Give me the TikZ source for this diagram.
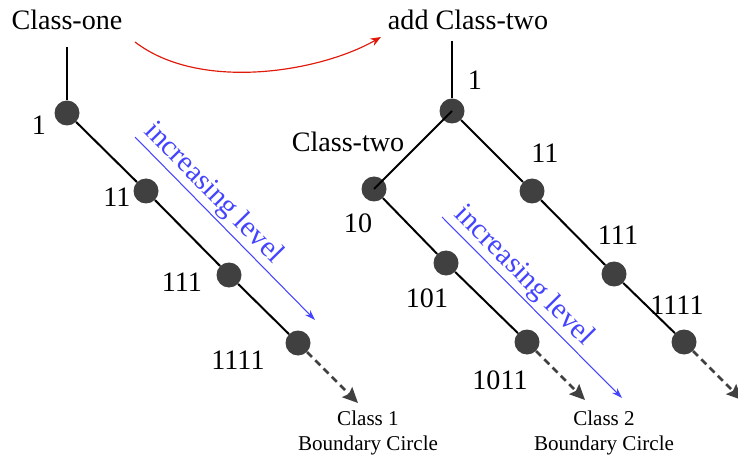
\documentclass[tikz,border=0pt]{standalone}
\usepackage{fontspec}
\setmainfont{Liberation Serif}
\usetikzlibrary{arrows.meta}

\definecolor{dotgray}{HTML}{404040}
\definecolor{lvlblue}{HTML}{4444FF}
\definecolor{movered}{HTML}{E01A0A}

\begin{document}
\begin{tikzpicture}[
  x=0.03cm, y=-0.03cm,
  font=\fontsize{24}{26}\selectfont,
  dot/.style={circle, fill=dotgray, minimum size=0.75cm, inner sep=0pt},
  edge/.style={line width=1.7pt, black},
  ext/.style={line width=2.2pt, dotgray, dash pattern=on 6pt off 4pt,
              -{Stealth[length=13pt,width=12pt,inset=2pt]}},
  lvl/.style={line width=0.9pt, lvlblue, -{Stealth[length=9pt,width=6pt]}},
  lvltext/.style={sloped, above=1pt, inner sep=1pt, text=lvlblue,
                  font=\fontsize{25}{27}\selectfont},
  small/.style={font=\fontsize{18}{21}\selectfont, align=center},
]
\useasboundingbox (0,0) rectangle (738,458);
\clip (0,0) rectangle (738,458);

% ---- class one ----
\node (cone) at (67,20) {Class-one};
\coordinate (cone-top) at (67,47);
\node[dot] (a1)    at (67,113)  {};
\node[dot] (a11)   at (146,191) {};
\node[dot] (a111)  at (229,275) {};
\node[dot] (a1111) at (298,343) {};
\coordinate (a-end) at (358,403);

\node (la1)    at (39,125)  {1};
\node (la11)   at (117,197) {11};
\node (la111)  at (182,282) {111};
\node (la1111) at (238,360) {1111};
\node[small] (bc1) at (368,433) {Class 1\\Boundary Circle};

\draw[edge] (cone-top) -- (a1);
\draw[edge] (a1) -- (a11);
\draw[edge] (a11) -- (a111);
\draw[edge] (a111) -- (a1111);
\draw[ext] (a1111) -- (a-end);

% ---- class two added ----
\node (ctwo) at (468,20) {add Class-two};
\coordinate (ctwo-top) at (452,41);
\node[dot] (b1)    at (452,111) {};
\node[dot] (b10)   at (374,189) {};
\node[dot] (b101)  at (446,263) {};
\node[dot] (b1011) at (527,342) {};
\node[dot] (b11)   at (532,191) {};
\node[dot] (b111)  at (614,274) {};
\node[dot] (b1111) at (684,342) {};
\coordinate (b-end)  at (585,400);
\coordinate (bb-end) at (742,400);

\node (lb1)    at (475,80)  {1};
\node (lbtwo)  at (348,142) {Class-two};
\node (lb10)   at (358,223) {10};
\node (lb101)  at (427,298) {101};
\node (lb1011) at (500,380) {1011};
\node (lb11)   at (545,153) {11};
\node (lb111)  at (618,235) {111};
\node (lb1111) at (677,305) {1111};
\node[small] (bc2) at (604,433) {Class 2\\Boundary Circle};

\draw[edge] (ctwo-top) -- (b1);
\draw[edge] (b1) -- (b11);
\draw[edge] (b11) -- (b111);
\draw[edge] (b111) -- (b1111);
\draw[edge] (b10) -- (b101);
\draw[edge] (b101) -- (b1011);
\draw[edge] (b1.center) -- (b10.center);
\draw[ext] (b1011) -- (b-end);
\draw[ext] (b1111) -- (bb-end);

% ---- level arrows ----
\coordinate (lv1-s) at (135,137);
\coordinate (lv1-e) at (315,320);
\coordinate (lv2-s) at (442,217);
\coordinate (lv2-e) at (622,398);
\draw[lvl] (lv1-s) -- node[lvltext, pos=0.37] {increasing level} (lv1-e);
\draw[lvl] (lv2-s) -- node[lvltext, pos=0.39] {increasing level} (lv2-e);

% ---- move arrow ----
\coordinate (mv-s) at (135,42);
\coordinate (mv-e) at (381,37);
\draw[movered, line width=1pt, -{Stealth[length=9pt,width=7pt]}]
  (mv-s) .. controls (200,92) and (320,72) .. (mv-e);
\end{tikzpicture}
\end{document}
